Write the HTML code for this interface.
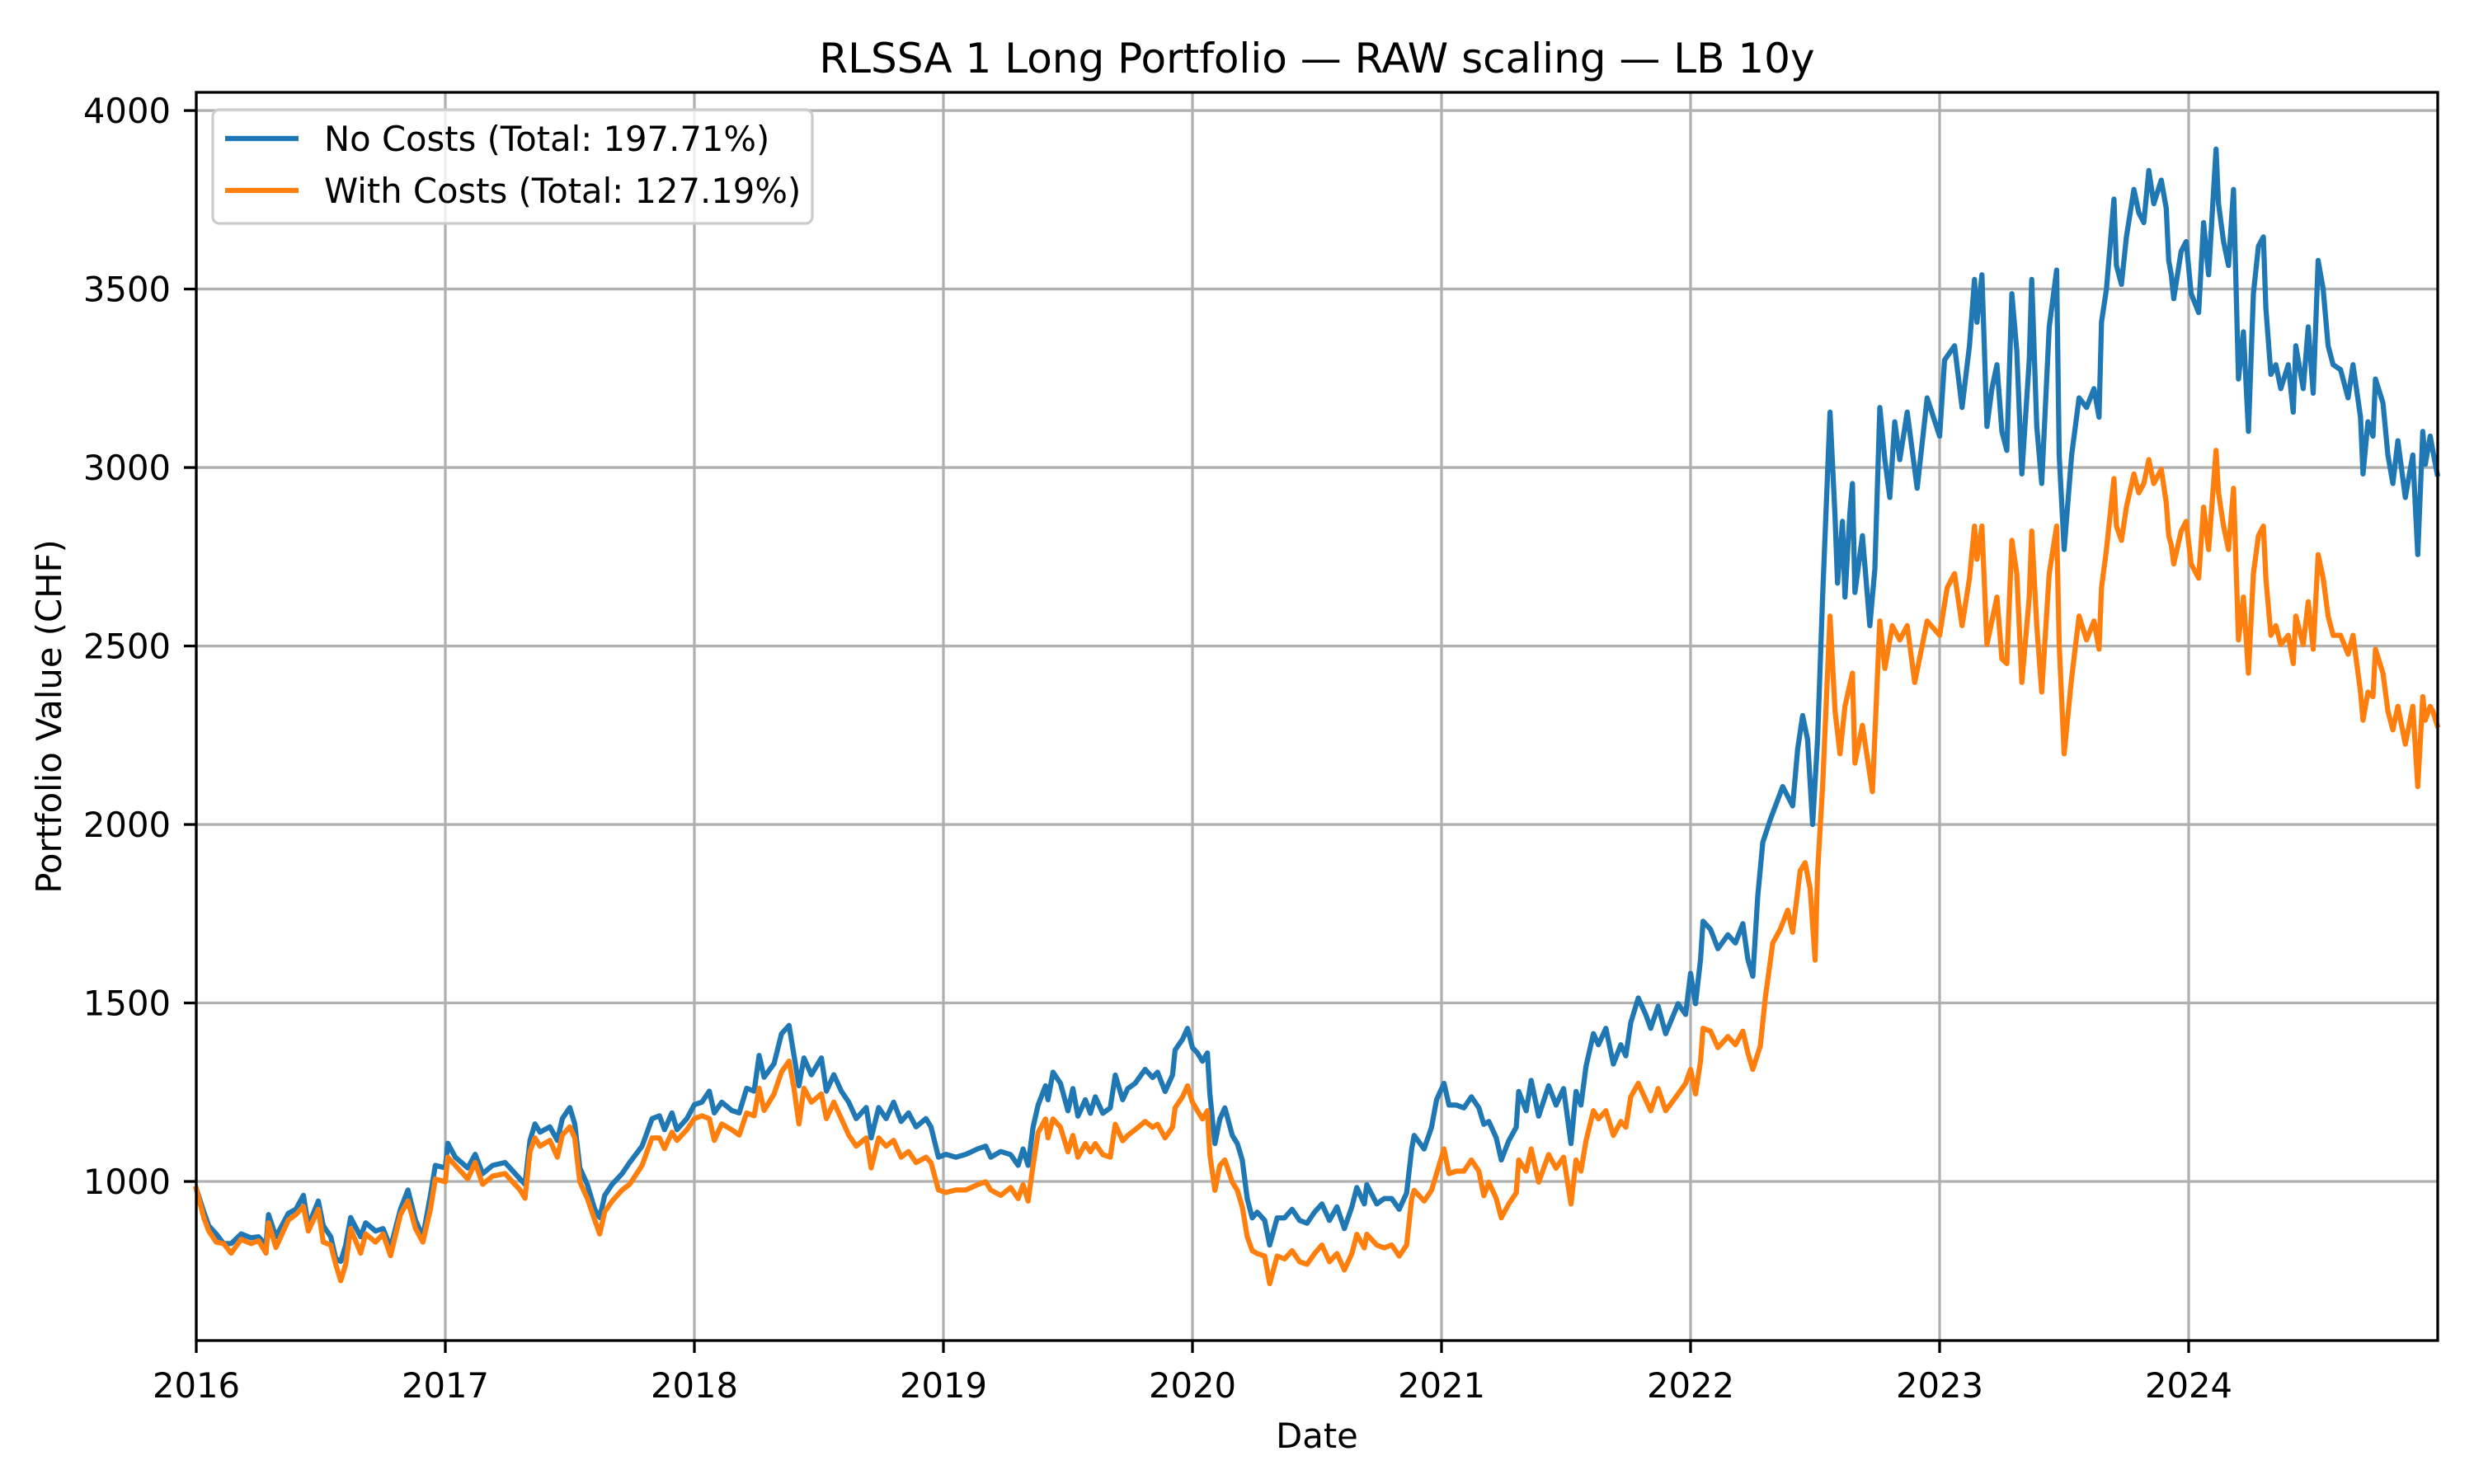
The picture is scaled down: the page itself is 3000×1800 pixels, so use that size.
<!DOCTYPE html>
<html><head><meta charset="utf-8"><style>
html,body{margin:0;padding:0;background:#fff;}
svg{display:block;font-family:"DejaVu Sans","Liberation Sans",sans-serif;}
</style></head><body>
<svg id="chart" width="3000" height="1800" viewBox="0 0 3000 1800" xmlns="http://www.w3.org/2000/svg">
<rect width="3000" height="1800" fill="#fff"/>
<g id="grid"></g>
<g id="series"></g>
<rect x="238" y="112" width="2718" height="1514" fill="none" stroke="#000" stroke-width="3.3"/>
<g id="ticks"></g>
<text x="1597" y="88" font-size="50" text-anchor="middle">RLSSA 1 Long Portfolio — RAW scaling — LB 10y</text>
<text x="1597" y="1756" font-size="41.7" text-anchor="middle">Date</text>
<text x="0" y="0" font-size="41.7" text-anchor="middle" transform="translate(74,869) rotate(-90)">Portfolio Value (CHF)</text>
<g>
<rect x="258" y="133" width="727" height="138" rx="8" fill="#fff" fill-opacity="0.8" stroke="#cccccc" stroke-width="3.3"/>
<line x1="273" y1="168" x2="362" y2="168" stroke="#1f77b4" stroke-width="6.25"/>
<text x="393" y="183" font-size="41.7">No Costs (Total: 197.71%)</text>
<line x1="273" y1="231" x2="362" y2="231" stroke="#ff7f0e" stroke-width="6.25"/>
<text x="393" y="246" font-size="41.7">With Costs (Total: 127.19%)</text>
</g>
</svg>
<script>
const xTickLabels = ["2016","2017","2018","2019","2020","2021","2022","2023","2024"];
const yTickValues = [1000,1500,2000,2500,3000,3500,4000];
const datesEarly = [2016.00,2016.03,2016.05,2016.08,2016.11,2016.14,2016.18,2016.22,2016.25,2016.28,2016.29,2016.32,2016.37,2016.40,2016.43,2016.45,2016.49,2016.51,2016.54,2016.56,2016.58,2016.60,2016.62,2016.66,2016.68,2016.72,2016.75,2016.78,2016.82,2016.85,2016.88,2016.91,2016.94,2016.96,2017.00,2017.01,2017.04,2017.09,2017.12,2017.15,2017.19,2017.24,2017.27,2017.30,2017.32,2017.34,2017.36,2017.38,2017.42,2017.45,2017.47,2017.50,2017.52,2017.54,2017.57,2017.60,2017.62,2017.64,2017.67,2017.71,2017.74,2017.79,2017.83,2017.86,2017.88,2017.91,2017.93,2017.97,2018.00,2018.03,2018.06,2018.08,2018.11,2018.15,2018.18,2018.21,2018.24,2018.26,2018.28,2018.32,2018.35,2018.38,2018.40,2018.42,2018.44,2018.47,2018.51,2018.53,2018.56,2018.59,2018.62,2018.65,2018.69,2018.71,2018.74,2018.77,2018.80,2018.83,2018.86,2018.89,2018.93,2018.95,2018.98,2019.01,2019.05,2019.09,2019.14,2019.17,2019.19,2019.23,
2019.27,2019.30,2019.32,2019.34,2019.36,2019.38,2019.41,2019.42,2019.44,2019.47,2019.50,2019.52,2019.54,2019.57,2019.59,2019.61,2019.64,2019.67,2019.69,2019.72,2019.74,2019.77,2019.81,2019.84,2019.86,2019.89,2019.92,2019.93,2019.96,2019.98,2020.00,2020.02,2020.04,2020.06,2020.07,2020.09,2020.11,2020.13,2020.16,2020.18,2020.20,2020.22,2020.24,2020.26,2020.29,2020.31,2020.34,2020.37,2020.40,2020.43,2020.46,2020.49,2020.52,2020.55,2020.58,2020.61,2020.64,2020.66,2020.69,2020.70,2020.74,2020.77,2020.80,2020.83,2020.86,2020.88,2020.89,2020.93,2020.96,2020.98,2021.01,2021.03,2021.06,2021.09,2021.12,2021.15,2021.17,2021.19,2021.22,2021.24,2021.27,2021.30,2021.31,2021.34,2021.36,2021.39,2021.43,2021.46,2021.49,2021.52,2021.54,2021.56,2021.58,2021.61,2021.63,2021.66,2021.69,2021.72,2021.74,2021.76,2021.79,2021.82,2021.84,2021.87,2021.90,2021.95,2021.98,2022.00,2022.02,2022.04,2022.05,2022.08,2022.11,2022.15,2022.18,2022.21,2022.23,2022.25];
const noCostsEarly = [980,915,876,853,826,826,853,842,845,822,907,845,911,922,961,876,945,876,845,784,776,822,899,845,884,861,868,815,922,976,892,845,961,1045,1038,1107,1068,1038,1076,1022,1045,1053,1030,1007,992,1115,1161,1138,1153,1115,1176,1207,1161,1038,992,922,899,961,992,1022,1053,1099,1176,1184,1145,1192,1145,1176,1215,1222,1253,1192,1222,1199,1192,1261,1253,1353,1292,1330,1414,1437,1353,1268,1346,1299,1346,1253,1299,1253,1222,1176,1207,1122,1207,1176,1222,1168,1192,1153,1176,1153,1068,1076,1068,1076,1092,1099,1068,1084,
1075,1045,1091,1045,1152,1214,1268,1229,1306,1275,1198,1260,1183,1229,1191,1237,1191,1206,1298,1229,1260,1275,1314,1291,1306,1252,1298,1368,1398,1429,1375,1360,1337,1360,1245,1106,1175,1206,1129,1106,1060,952,898,914,891,822,898,898,922,891,883,914,937,891,929,868,929,983,937,991,937,952,952,922,968,1091,1129,1091,1152,1229,1275,1214,1214,1206,1237,1206,1160,1168,1122,1060,1114,1152,1252,1198,1283,1183,1268,1214,1260,1106,1252,1214,1322,1414,1383,1429,1329,1383,1352,1445,1514,1468,1429,1491,1414,1498,1468,1583,1498,1622,1729,1706,1652,1691,1668,1722,1622,1575];
const withCostsEarly = [980,899,861,830,826,799,838,826,834,799,884,815,892,907,930,861,922,830,822,768,722,768,868,799,853,830,853,792,907,945,868,830,922,1007,999,1068,1045,1007,1053,992,1015,1022,999,976,953,1084,1122,1099,1115,1068,1130,1153,1122,999,953,892,853,915,945,976,992,1045,1122,1122,1092,1138,1115,1145,1176,1184,1176,1115,1161,1145,1130,1192,1184,1261,1199,1245,1307,1337,1261,1161,1261,1222,1245,1176,1222,1176,1130,1099,1122,1038,1122,1099,1115,1068,1084,1053,1068,1053,976,969,976,976,992,999,976,961,
983,952,991,945,1045,1137,1175,1122,1175,1152,1083,1129,1068,1106,1083,1106,1075,1068,1160,1114,1129,1145,1168,1152,1160,1122,1152,1206,1237,1268,1222,1198,1175,1198,1075,975,1045,1060,998,975,929,845,806,798,791,714,791,783,806,775,768,798,822,775,798,752,798,852,814,852,822,814,822,791,822,952,975,945,975,1022,1091,1022,1029,1029,1060,1029,960,998,952,898,937,968,1060,1029,1091,998,1075,1037,1068,937,1060,1029,1114,1198,1175,1198,1129,1168,1152,1237,1275,1229,1198,1260,1198,1245,1275,1314,1245,1337,1429,1421,1375,1406,1383,1421,1360,1314];
const datesLateNoCosts = [2022.27,2022.29,2022.32,2022.37,2022.41,2022.43,2022.45,2022.47,2022.49,2022.51,2022.53,2022.56,2022.58,2022.59,2022.61,2022.62,2022.64,2022.65,2022.66,2022.69,2022.72,2022.74,2022.76,2022.78,2022.80,2022.82,2022.84,2022.87,2022.91,2022.95,2023.00,2023.02,2023.06,2023.09,2023.12,2023.14,2023.15,2023.17,2023.19,2023.21,2023.23,2023.25,2023.27,2023.29,2023.31,2023.33,2023.36,2023.37,2023.39,2023.41,2023.44,2023.47,2023.48,2023.50,2023.53,2023.56,2023.59,2023.62,2023.64,2023.65,2023.67,2023.70,2023.71,2023.73,2023.75,2023.78,2023.80,2023.82,2023.84,2023.86,2023.89,2023.91,2023.92,2023.93,2023.94,2023.97,2023.99,2024.01,2024.04,2024.06,2024.08,2024.11,2024.12,2024.14,2024.16,2024.18,2024.20,2024.22,2024.24,2024.26,2024.28,2024.30,2024.31,2024.33,2024.35,2024.37,2024.40,2024.42,2024.43,2024.46,2024.48,2024.50,2024.52,2024.54,2024.56,2024.58,2024.61,2024.64,2024.66,2024.69,2024.70,2024.72,2024.74,2024.75,2024.78,2024.80,2024.82,2024.84,2024.87,2024.90,2024.92,2024.94,2024.95,2024.97,2024.98,2024.998];
const noCostsLate = [1800,1950,2013,2106,2052,2212,2305,2238,2000,2238,2637,3155,2862,2676,2849,2637,2876,2955,2650,2809,2557,2716,3168,3022,2916,3128,3022,3155,2942,3195,3088,3301,3341,3168,3341,3527,3407,3540,3115,3221,3288,3101,3048,3487,3327,2982,3301,3527,3115,2955,3394,3553,3035,2770,3035,3195,3168,3221,3141,3407,3500,3752,3566,3513,3646,3779,3713,3686,3832,3739,3805,3726,3580,3540,3473,3606,3633,3487,3434,3686,3540,3892,3739,3633,3566,3779,3248,3380,3101,3487,3620,3646,3447,3261,3288,3221,3288,3155,3341,3221,3394,3208,3580,3500,3341,3288,3274,3195,3288,3141,2982,3128,3088,3248,3181,3035,2955,3075,2916,3035,2756,3101,3009,3088,3048,2982];
const datesLateWithCosts = [2022.28,2022.30,2022.33,2022.36,2022.39,2022.41,2022.44,2022.46,2022.48,2022.50,2022.51,2022.53,2022.56,2022.58,2022.60,2022.62,2022.65,2022.66,2022.69,2022.73,2022.76,2022.78,2022.81,2022.84,2022.87,2022.90,2022.95,2023.00,2023.03,2023.06,2023.09,2023.12,2023.14,2023.15,2023.17,2023.19,2023.21,2023.23,2023.25,2023.27,2023.29,2023.31,2023.33,2023.36,2023.37,2023.39,2023.41,2023.44,2023.47,2023.48,2023.50,2023.53,2023.56,2023.59,2023.62,2023.64,2023.65,2023.67,2023.70,2023.71,2023.73,2023.75,2023.78,2023.80,2023.82,2023.84,2023.86,2023.89,2023.91,2023.92,2023.93,2023.94,2023.97,2023.99,2024.01,2024.04,2024.06,2024.08,2024.11,2024.12,2024.14,2024.16,2024.18,2024.20,2024.22,2024.24,2024.26,2024.28,2024.30,2024.31,2024.33,2024.35,2024.37,2024.40,2024.42,2024.43,2024.46,2024.48,2024.50,2024.52,2024.54,2024.56,2024.58,2024.61,2024.64,2024.66,2024.69,2024.70,2024.72,2024.74,2024.75,2024.78,2024.80,2024.82,2024.84,2024.87,2024.90,2024.92,2024.94,2024.95,2024.97,2024.98,2024.998];
const withCostsLate = [1380,1514,1668,1706,1760,1698,1870,1893,1820,1620,1866,2106,2584,2318,2198,2331,2424,2172,2278,2092,2570,2437,2557,2517,2557,2398,2570,2530,2663,2703,2557,2690,2836,2743,2836,2504,2570,2637,2464,2451,2796,2703,2398,2637,2822,2557,2371,2703,2836,2504,2198,2411,2584,2517,2570,2491,2663,2770,2969,2836,2796,2889,2982,2929,2955,3022,2955,2995,2902,2809,2783,2730,2822,2849,2730,2690,2889,2770,3048,2929,2836,2770,2942,2517,2637,2424,2703,2809,2836,2690,2530,2557,2504,2530,2451,2584,2504,2624,2491,2756,2690,2584,2530,2530,2477,2530,2371,2292,2371,2358,2491,2424,2318,2265,2331,2225,2331,2106,2358,2292,2331,2318,2278];

const NS = "http://www.w3.org/2000/svg";
const X0 = 238, X1 = 2956, Y0 = 1626, Y1 = 112;
const xMin = 2016.0, xMax = 2025.0, yMin = 554.3, yMax = 4051;
function xScale(d){ return X0 + (d - xMin) / (xMax - xMin) * (X1 - X0); }
function yScale(v){ return Y0 - (v - yMin) / (yMax - yMin) * (Y0 - Y1); }
function mk(tag, attrs, parent){ const e = document.createElementNS(NS, tag); for (const k in attrs) e.setAttribute(k, attrs[k]); parent.appendChild(e); return e; }

const grid = document.getElementById('grid');
const ticks = document.getElementById('ticks');
xTickLabels.forEach(function(lab){
  const x = xScale(parseFloat(lab));
  const gl = mk('line', {x1:x, y1:Y1, x2:x, y2:Y0, stroke:'#b0b0b0', 'stroke-width':3.3}, grid);
  
  
  const tk = mk('line', {x1:x, y1:Y0, x2:x, y2:Y0+15, stroke:'#000', 'stroke-width':3.3}, ticks);
  
  
  const t = mk('text', {x:x, y:1695, 'font-size':41.7, 'text-anchor':'middle'}, ticks);
  t.textContent = lab;
  
  
});
yTickValues.forEach(function(v){
  const y = yScale(v);
  const gl = mk('line', {x1:X0, y1:y, x2:X1, y2:y, stroke:'#b0b0b0', 'stroke-width':3.3}, grid);
  
  
  const tk = mk('line', {x1:X0-15, y1:y, x2:X0, y2:y, stroke:'#000', 'stroke-width':3.3}, ticks);
  
  
  const t = mk('text', {x:207, y:y+15, 'font-size':41.7, 'text-anchor':'end'}, ticks);
  t.textContent = String(v);
  
  
});

function pathFor(dates, vals){
  const n = Math.min(dates.length, vals.length);
  let d = '';
  for (let i = 0; i < n; i++) d += (i ? 'L' : 'M') + xScale(dates[i]).toFixed(1) + ',' + yScale(vals[i]).toFixed(1);
  return d;
}
const series = document.getElementById('series');
const nE = Math.min(datesEarly.length, noCostsEarly.length, withCostsEarly.length);
const noDates = datesEarly.slice(0, nE).concat(datesLateNoCosts);
const noVals = noCostsEarly.slice(0, nE).concat(noCostsLate);
const wDates = datesEarly.slice(0, nE).concat(datesLateWithCosts);
const wVals = withCostsEarly.slice(0, nE).concat(withCostsLate);
const pNo = mk('path', {d:pathFor(noDates, noVals), fill:'none', stroke:'#1f77b4', 'stroke-width':6.25, 'stroke-linejoin':'round', 'stroke-linecap':'square'}, series);


const pW = mk('path', {d:pathFor(wDates, wVals), fill:'none', stroke:'#ff7f0e', 'stroke-width':6.25, 'stroke-linejoin':'round', 'stroke-linecap':'square'}, series);


</script>
</body></html>
